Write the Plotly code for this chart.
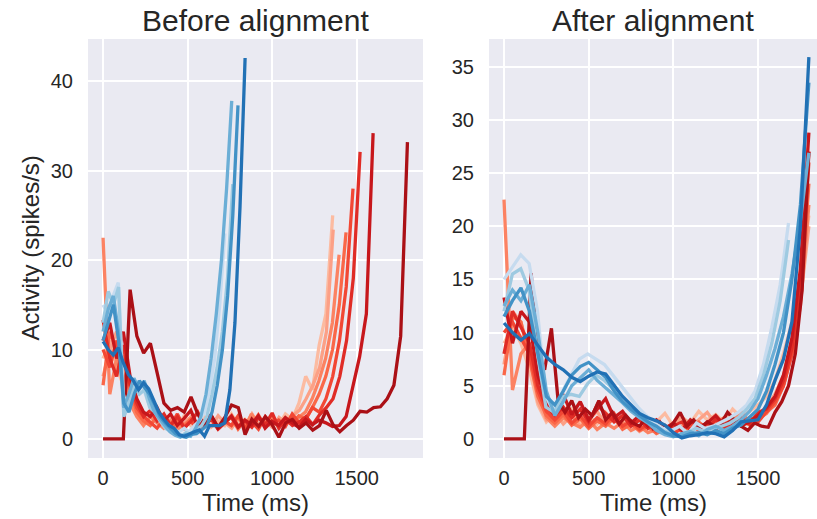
import numpy as np
import plotly.graph_objects as go

# ---------------- colours (light -> dark) ----------------
red_colors = ['#fcbba1', '#fca086', '#fc8262', '#fa6748', '#f24734', '#e02c26', '#c7171c', '#ab1016']
blue_colors = ['#c6dbef', '#9ecae1', '#6baed6', '#4292c6', '#2171b5']

# ---------------- BEFORE alignment (each trial has its own duration, ms) ----------------
red_dur_before = [1358, 1361, 1396, 1437, 1478, 1520, 1597, 1800]
blue_dur_before = [720, 767, 761, 798, 840]

r1_before = [9, 11, 8, 6, 4, 3, 2.2, 1.8, 2.5, 1.5, 2, 1.2, 2.6, 1.5, 1.8, 2.4, 1.3, 2, 1.5, 2.8, 1.6, 2.2, 1.4, 2.5, 1.7, 2.2, 1.5, 2.8, 2.2, 4, 7, 5.5, 10.5, 14, 25]
r2_before = [7, 10, 12, 8, 5, 3, 2.5, 3, 2, 1.5, 2.2, 1, 1.8, 2.5, 1.2, 2, 1.4, 2.6, 1.8, 1.2, 2.3, 1.5, 2.8, 1.6, 2, 1.3, 2.4, 1.8, 2.6, 3.2, 4.5, 6, 8, 12, 23.4]
r3_before = [22.5, 5, 9, 7, 4, 2.5, 1.5, 2.5, 1.8, 1.2, 2, 1, 1.6, 2.2, 1.3, 1.9, 2.6, 1.4, 2, 1.5, 2.4, 1.2, 2.8, 1.5, 1.9, 2.5, 1.3, 2, 1.7, 2.4, 3, 4.5, 6.5, 9, 13, 20.6]
r4_before = [6, 12, 10, 7, 5.5, 3, 2, 1.5, 2.5, 1.6, 1.2, 2, 1.4, 2.2, 1, 1.8, 2.5, 1.3, 1.9, 2.4, 1.1, 2.1, 1.6, 2.7, 1.4, 2, 1.5, 2.3, 1.8, 2.6, 2.2, 3.5, 5, 7, 10, 15, 23.1]
r5_before = [10, 8, 11, 9, 6, 3.5, 2.5, 1.8, 1.2, 2.2, 1.5, 2.8, 1.3, 2, 1.1, 1.7, 2.4, 1.2, 2, 1.5, 2.6, 1.3, 1.9, 1.1, 2.5, 1.6, 2.1, 1.4, 2.8, 1.8, 2.2, 3.5, 3, 4.5, 7, 11, 17, 28]
r6_before = [13.3, 9, 7, 10.5, 6, 4, 2.5, 3.2, 2, 2.8, 1.5, 2.5, 1.2, 2, 3, 1.5, 2.2, 1.1, 1.8, 2.6, 1.4, 2, 1.3, 2.4, 1.6, 2.9, 1.2, 2.2, 1.5, 1.9, 2.5, 1.6, 2.7, 3.5, 4.5, 7, 11, 18, 32.1]
r7_before = [11, 13, 9, 12, 7, 4.5, 3, 2.5, 3.5, 2, 2.8, 1.5, 2.3, 3.2, 1.4, 2, 2.7, 1.2, 1.9, 2.5, 1.3, 2.1, 1.6, 2.6, 1.2, 2, 1.5, 2.4, 1.8, 1.3, 2.2, 1.6, 2.1, 1.8, 1.4, 1.5, 2.5, 5.9, 9.2, 14, 34.2]
r8_before = [0, 0, 0, 0, 16.7, 11.5, 9.6, 10.7, 7.4, 4, 3.2, 3.5, 3.0, 4.7, 2.8, 1.5, 2.6, 1.3, 2.4, 3.8, 3.5, 0.5, 2.2, 1.4, 2.5, 1.6, 0.2, 1.8, 2.2, 1.2, 1.8, 1.0, 1.5, 3.2, 1.6, 0.8, 1.5, 2.1, 3.1, 3.0, 3.5, 3.6, 4.5, 6.0, 11.5, 33.2]

b1_before = [15, 14, 16, 17.5, 5, 3, 5.5, 6.5, 5.5, 4, 3.5, 2.5, 2, 1.5, 1, 0.8, 1.2, 0.8, 1.5, 2, 3, 5.5, 9, 15, 23]
b2_before = [13, 16.5, 15, 17, 2.5, 4, 6, 5, 5.5, 3.5, 3, 2, 1.2, 0.8, 0.5, 0.3, 0.7, 0.5, 1, 1.5, 2.5, 5, 8, 12, 18, 28.5]
b3_before = [12, 14.5, 16, 12, 3.5, 5, 6.8, 5.5, 6.5, 4.5, 3, 2.2, 1.5, 0.8, 0.4, 0.2, 0.5, 0.3, 1.2, 2.5, 5, 9, 14, 20, 28, 37.8]
b4_before = [11, 13, 15, 11, 4, 3, 5, 6.5, 5.8, 5, 3.8, 2.5, 1.8, 1.2, 0.6, 0.3, 0.2, 0.5, 0.6, 1, 1.5, 3, 6, 10, 16, 25, 37.3]
b5_before = [10.9, 10.0, 9.4, 10.2, 8.5, 7.2, 6.5, 5.5, 6.3, 5.6, 4.3, 3.0, 2.2, 1.5, 1.2, 0.5, 0.3, 0.6, 0.8, 1.0, 0.3, 1.5, 1.5, 1.5, 1.8, 5.5, 13, 26, 42.6]

# ---------------- AFTER alignment (trials warped onto a common time axis, ms) ----------------
red_dur_after = [1800, 1800, 1800, 1800, 1800, 1800, 1800, 1800]
blue_dur_after = [1680, 1680, 1800, 1800, 1800]

r1_after = [9, 10.5, 9, 6.5, 3.2, 1.6, 2.4, 1.8, 2.8, 1.5, 2.2, 1.4, 2.5, 1.6, 2.0, 1.3, 1.8, 1.1, 1.6, 2.4, 1.2, 2.0, 1.5, 2.6, 1.8, 2.3, 1.6, 2.8, 2.0, 2.6, 3.2, 4, 5.5, 8, 11, 15, 21]
r2_after = [7, 12, 11, 8, 3.5, 1.8, 2.5, 1.4, 2.2, 1.2, 1.8, 2.6, 1.3, 1.9, 1.0, 1.5, 0.7, 1.2, 1.7, 0.9, 1.4, 2.1, 1.2, 1.8, 2.5, 1.4, 2.0, 1.6, 2.4, 1.7, 2.2, 3, 4.2, 6, 9, 13, 20]
r3_after = [22.5, 4.6, 8, 9, 5, 2, 1.2, 2, 1.5, 1.1, 1.8, 0.9, 1.5, 1.0, 1.6, 0.8, 1.2, 0.6, 0.9, 1.3, 0.7, 1.2, 0.9, 1.5, 1.1, 2.0, 1.3, 1.8, 2.6, 1.5, 1.9, 2.4, 3.5, 5.5, 8, 12.5, 22]
r4_after = [6, 11.5, 11, 7.5, 4, 2.2, 1.5, 2.3, 1.3, 1.9, 1.0, 1.7, 1.2, 2.0, 0.9, 1.4, 0.8, 1.2, 0.5, 0.9, 1.3, 0.7, 1.1, 1.6, 0.9, 1.4, 2.0, 1.2, 1.8, 1.3, 2.2, 2.5, 3.2, 5, 8, 13, 24]
r5_after = [10, 11, 9.5, 8, 4.5, 2.6, 1.8, 2.6, 1.5, 2.2, 1.2, 2.0, 1.4, 2.4, 1.2, 1.7, 0.9, 1.4, 0.7, 1.1, 0.5, 1.0, 1.4, 0.8, 1.3, 0.9, 1.6, 1.0, 1.5, 2.0, 1.6, 2.6, 3.5, 5, 8, 14, 26]
r6_after = [8, 12, 10.5, 9, 5, 3, 2.2, 3, 2, 2.8, 1.6, 3.2, 2.4, 1.6, 2.2, 1.2, 1.8, 1.0, 1.5, 0.7, 1.2, 1.6, 0.9, 1.4, 1.0, 1.8, 1.1, 1.5, 2.0, 1.4, 2.5, 2.8, 3.8, 5.5, 8.5, 15, 27]
r7_after = [13.3, 9, 12, 11, 6, 3.5, 2.5, 4.2, 2.3, 3.5, 1.8, 2.8, 3.8, 2.0, 2.6, 1.5, 2.2, 1.2, 1.8, 1.0, 1.5, 0.8, 1.8, 1.1, 1.5, 2.2, 1.3, 1.8, 1.2, 1.6, 2.2, 3, 4, 6, 9.5, 16, 28.8]
r8_after = [0, 0, 0, 0, 15.6, 8, 6.5, 10.4, 3.5, 2.5, 3.6, 2, 2.8, 2.2, 3.6, 1.8, 2.5, 1.4, 2.2, 1.5, 1.2, 2, 1, 1.6, 0.8, 1.5, 2.5, 1.2, 1.8, 1, 1.6, 1.2, 1.4, 2.5, 1.8, 1.2, 0.8, 1.5, 1.2, 1.1, 2.5, 3.5, 5, 8, 14, 27]

b1_after = [15, 16.2, 17.3, 16.5, 12, 4, 2.5, 4.5, 6, 7.5, 8, 7.5, 7, 6, 5, 4, 3, 2.2, 1.5, 1, 0.8, 1.2, 0.5, 1.5, 1, 1.2, 1.6, 2.0, 2.5, 3.2, 4.5, 7, 10.5, 14.5, 20.3]
b2_after = [12, 15.5, 16, 14, 8, 3, 2.5, 4, 4.2, 4, 5.2, 6, 5.5, 4.8, 4, 3.2, 2.5, 1.8, 1.2, 0.8, 0.5, 0.3, 0.6, 1, 0.7, 1.0, 1.2, 1.5, 2.0, 2.8, 3.8, 6, 9, 13, 18.7]
b3_after = [12.5, 14, 13, 14.5, 10, 4.5, 2.2, 3.5, 5, 5.8, 6.5, 5.5, 4.8, 4.2, 3.4, 2.6, 2, 1.5, 0.8, 0.4, 0.2, 0.5, 0.7, 0.3, 0.9, 1.2, 0.8, 1.2, 1.8, 2.6, 3.8, 6, 8.5, 11.5, 15.5, 20.5, 26.9]
b4_after = [11.5, 13, 14.2, 12, 8, 4, 3.2, 4.5, 6, 6.8, 7.2, 6.5, 5.8, 4.5, 3.5, 2.8, 2.2, 1.6, 1.2, 0.6, 0.3, 0.2, 0.5, 0.6, 0.4, 0.8, 0.5, 1.0, 1.3, 2.0, 2.8, 4.5, 7, 10, 15, 22, 33.5]
b5_after = [10.9, 10, 9.3, 9.9, 8.8, 7.7, 7, 6.5, 5.8, 5.4, 5.9, 6.3, 6.1, 5, 4, 3.2, 2.4, 2, 1.7, 1.3, 0.6, 0.1, 0.3, 0.4, 0.6, 0.5, 0.2, 0.8, 1.6, 1.7, 1.8, 3.2, 5.5, 7.5, 11, 20, 35.9]

reds_before = [r1_before, r2_before, r3_before, r4_before, r5_before, r6_before, r7_before, r8_before]
blues_before = [b1_before, b2_before, b3_before, b4_before, b5_before]
reds_after = [r1_after, r2_after, r3_after, r4_after, r5_after, r6_after, r7_after, r8_after]
blues_after = [b1_after, b2_after, b3_after, b4_after, b5_after]

x_ticks = [0, 500, 1000, 1500]
y_ticks_before = [0, 10, 20, 30, 40]
y_ticks_after = [0, 5, 10, 15, 20, 25, 30, 35]

W, H = 817, 519
FONT = 'Liberation Sans, Arial, Helvetica, sans-serif'
TXT = '#262626'

fig = go.Figure()


def add_lines(series, durs, cols, xa, ya):
    for vals, dur, col in zip(series, durs, cols):
        fig.add_trace(go.Scatter(
            x=np.linspace(0, dur, len(vals)), y=vals, mode='lines',
            line=dict(color=col, width=3.3), xaxis=xa, yaxis=ya,
            showlegend=False, hoverinfo='skip'))


add_lines(reds_before, red_dur_before, red_colors, 'x', 'y')
add_lines(blues_before, blue_dur_before, blue_colors, 'x', 'y')
add_lines(reds_after, red_dur_after, red_colors, 'x2', 'y2')
add_lines(blues_after, blue_dur_after, blue_colors, 'x2', 'y2')

ax_x = dict(showgrid=True, gridcolor='white', gridwidth=2, zeroline=False,
            showline=False, ticks='', tickfont=dict(size=20, color=TXT, family=FONT),
            ticklabelstandoff=6, fixedrange=True)
ax_y = dict(ax_x, ticklabelstandoff=14)

fig.update_layout(
    width=W, height=H,
    margin=dict(l=0, r=0, t=39, b=61),
    paper_bgcolor='white', plot_bgcolor='#eaeaf2',
    font=dict(family=FONT, color=TXT),
    xaxis=dict(domain=[88 / W, 423 / W], range=[-89, 1892], tickvals=x_ticks, anchor='y', **ax_x),
    yaxis=dict(domain=[0, 1], range=[-2.13, 44.73], tickvals=y_ticks_before, anchor='x', **ax_y),
    xaxis2=dict(domain=[489 / W, 1.0], range=[-88.6, 1848], tickvals=x_ticks, anchor='y2', **ax_x),
    yaxis2=dict(domain=[0, 1], range=[-1.79, 37.6], tickvals=y_ticks_after, anchor='x2', **ax_y),
)

ph = H - 39 - 61
annos = [
    dict(text='Before alignment', x=(88 + 423) / 2 / W, y=1 + 19 / ph, font=dict(size=30)),
    dict(text='After alignment', x=(489 + 817) / 2 / W, y=1 + 19 / ph, font=dict(size=30)),
    dict(text='Time (ms)', x=(88 + 423) / 2 / W, y=-45 / ph, font=dict(size=24)),
    dict(text='Time (ms)', x=(489 + 817) / 2 / W, y=-45 / ph, font=dict(size=24)),
    dict(text='Activity (spikes/s)', x=30 / W, y=0.5, font=dict(size=24), textangle=-90),
]
for a in annos:
    a.update(xref='paper', yref='paper', showarrow=False, xanchor='center', yanchor='middle')
    a['font'].update(family=FONT, color=TXT)
    fig.add_annotation(**a)

fig.write_html('out.html')
